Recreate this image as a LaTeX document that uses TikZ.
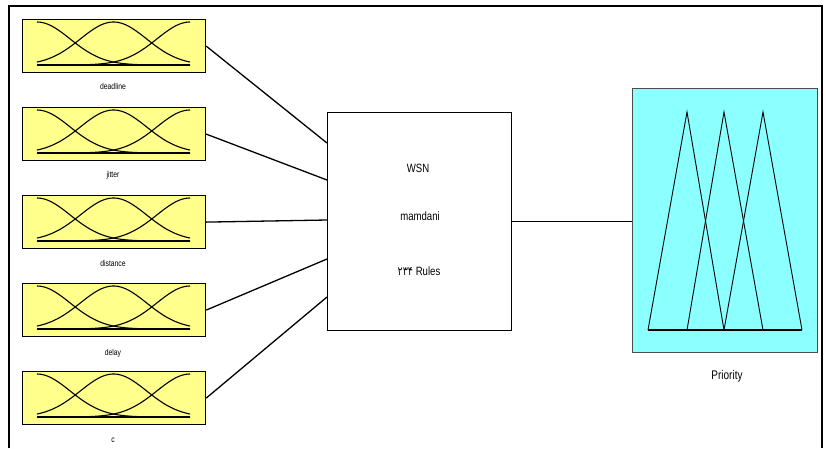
\documentclass[tikz,border=0pt]{standalone}
\usepackage{fontspec}
\setmainfont{Liberation Sans}
\newfontfamily\condfont[FakeStretch=0.8]{Liberation Sans}
\newfontfamily\fadigits[FakeStretch=0.8]{DejaVu Sans}
\usetikzlibrary{calc}
\definecolor{inyellow}{RGB}{255,255,140}
\definecolor{outcyan}{RGB}{140,255,255}
\begin{document}
\begin{tikzpicture}[x=1pt,y=-1pt,
  mfbox/.style={draw=black, line width=1.2pt, fill=inyellow, minimum width=183pt,
    minimum height=53pt, inner sep=0pt, anchor=north west},
  fisbox/.style={draw=black, line width=1.2pt, fill=white, minimum width=184pt,
    minimum height=218pt, inner sep=0pt, anchor=north west},
  outbox/.style={draw=black!70, line width=0.8pt, fill=outcyan, minimum width=185pt,
    minimum height=264pt, inner sep=0pt, anchor=north west},
  lab/.style={font=\condfont\fontsize{8.5}{9}\selectfont, inner sep=0pt},
  fistext/.style={font=\condfont\fontsize{12}{13}\selectfont, inner sep=0pt},
  mf/.style={line width=1.1pt, black},
  base/.style={line width=2.6pt, black},
  conn/.style={line width=1.3pt, black},
  frame/.style={line width=1.8pt, black}]
\useasboundingbox (0,0) rectangle (826,448);
\fill[white] (0,0) rectangle (826,448);
\draw[frame] (9,448) -- (9,6) -- (822,6) -- (822,448);

% input membership-function boxes
\foreach \n/\yT in {1/19, 2/107, 3/195, 4/283, 5/371} {
  \node[mfbox] (in\n) at (22,\yT) {};
  \draw[mf] plot[domain=37:190, samples=70, smooth]
    (\x, {\yT+46-43*exp(-0.5*((\x-37)/33.1)^2)});
  \draw[mf] plot[domain=37:190, samples=70, smooth]
    (\x, {\yT+46-43*exp(-0.5*((\x-113.5)/33.1)^2)});
  \draw[mf] plot[domain=37:190, samples=70, smooth]
    (\x, {\yT+46-43*exp(-0.5*((\x-190)/33.1)^2)});
  \draw[base] (37,\yT+46) -- (190,\yT+46);
}
\node[lab] (l1) at (113,86) {deadline};
\node[lab] (l2) at (113,175) {jitter};
\node[lab] (l3) at (113,263) {distance};
\node[lab] (l4) at (113,353) {delay};
\node[lab] (l5) at (113,440) {c};

% FIS box
\node[fisbox] (fis) at (327,112) {};
\node[fistext] (t1) at (418,168) {WSN};
\node[fistext] (t2) at (420,216) {mamdani};
\node[fistext] (t3) at (419,271) {{\fadigits ۲۳۴} Rules};

\coordinate (f1) at ($(fis.north west)+(0,31)$);
\coordinate (f2) at ($(fis.north west)+(0,68)$);
\coordinate (f3) at ($(fis.north west)+(0,108)$);
\coordinate (f4) at ($(fis.north west)+(0,147)$);
\coordinate (f5) at ($(fis.north west)+(0,185)$);
\draw[conn] (in1.east) -- (f1);
\draw[conn] (in2.east) -- (f2);
\draw[conn] (in3.east) -- (f3);
\draw[conn] (in4.east) -- (f4);
\draw[conn] (in5.east) -- (f5);

% output box
\node[outbox] (out) at (632,88) {};
\draw[conn] (fis.east) -- (fis.east -| out.west);
\draw[mf, line width=0.9pt] (648,330) -- (687,112) -- (724,330);
\draw[mf, line width=0.9pt] (687,330) -- (724,112) -- (763,330);
\draw[mf, line width=0.9pt] (724,330) -- (763,112) -- (802,330);
\draw[base] (648,330) -- (802,330);
\node[lab, font=\condfont\fontsize{12.5}{13}\selectfont] (lo) at (727,376) {Priority};
\end{tikzpicture}
\end{document}
